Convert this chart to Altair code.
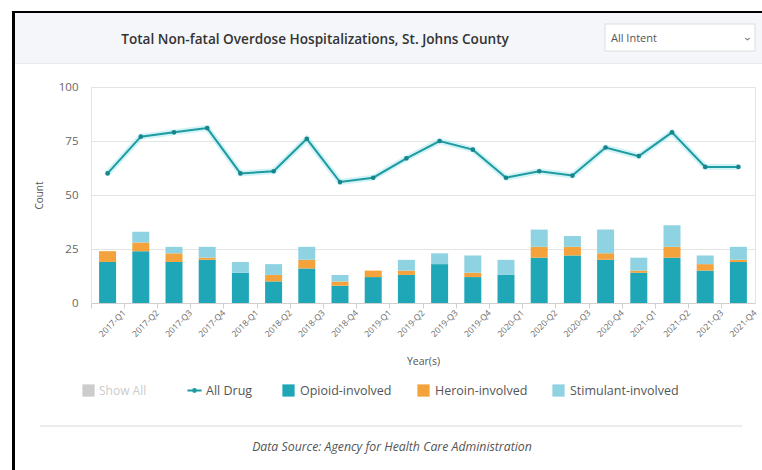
import altair as alt
import pandas as pd

# ---------------- data ----------------
quarters = ["2017-Q1", "2017-Q2", "2017-Q3", "2017-Q4",
            "2018-Q1", "2018-Q2", "2018-Q3", "2018-Q4",
            "2019-Q1", "2019-Q2", "2019-Q3", "2019-Q4",
            "2020-Q1", "2020-Q2", "2020-Q3", "2020-Q4",
            "2021-Q1", "2021-Q2", "2021-Q3", "2021-Q4"]
all_drug = [60, 77, 79, 81, 60, 61, 76, 56, 58, 67,
            75, 71, 58, 61, 59, 72, 68, 79, 63, 63]
opioid = [19, 24, 19, 20, 14, 10, 16, 8, 12, 13,
          18, 12, 13, 21, 22, 20, 14, 21, 15, 19]
heroin = [5, 4, 4, 1, 0, 3, 4, 2, 3, 2,
          0, 2, 0, 5, 4, 3, 1, 5, 3, 1]
stimulant = [0, 5, 3, 5, 5, 5, 6, 3, 0, 5,
             5, 8, 7, 8, 5, 11, 6, 10, 4, 6]

bar_series = ["Opioid-involved", "Heroin-involved", "Stimulant-involved"]
bar_colors = ["#1fa7b7", "#f4a23c", "#8fd3e2"]
line_name = "All Drug"
line_color = "#1e9ba1"
show_all = "Show All"

title_text = "Total Non-fatal Overdose Hospitalizations, St. Johns County"
dropdown_text = "All Intent"
source_text = "Data Source: Agency for Health Care Administration"

FONT = "Open Sans"

# ---------------- tables ----------------
line_df = pd.DataFrame({"quarter": quarters, "count": all_drug,
                        "series": [line_name] * len(quarters)})
rows = []
for j, (name, vals) in enumerate(zip(bar_series, [opioid, heroin, stimulant])):
    for q, v in zip(quarters, vals):
        rows.append({"quarter": q, "series": name, "count": v, "order": j})
bar_df = pd.DataFrame(rows)
dummy_df = pd.DataFrame({"quarter": [quarters[0]], "count": [None], "s": [show_all]})

W, H = 664, 216
STEP = W / len(quarters)

x_enc = alt.X(
    "quarter:N", sort=quarters, title="Year(s)",
    scale=alt.Scale(domain=quarters, paddingInner=0, paddingOuter=0),
    axis=alt.Axis(labelAngle=315, labelAlign="right", labelBaseline="middle",
                  labelFontSize=8.5, labelColor="#666", labelPadding=3,
                  labelFont=FONT, bandPosition=0, labelOffset=STEP / 2,
                  tickSize=5, tickColor="#d0d0d0", domainColor="#d0d0d0",
                  grid=False, titleFontSize=10.5, titleFontWeight="normal",
                  titleColor="#555", titleFont=FONT, titlePadding=19))
y_scale = alt.Scale(domain=[0, 100], nice=False)
y_axis = alt.Axis(values=[0, 25, 50, 75, 100], grid=True, gridColor="#e4e4e4",
                  domain=False, ticks=False, labelColor="#666", labelFontSize=11.5,
                  labelFont=FONT, labelPadding=13, titleFontSize=10,
                  titleFontWeight="normal", titleColor="#555", titleFont=FONT,
                  titlePadding=14)

LEG_Y = 297
leg_common = dict(orient="none", direction="horizontal", title=None,
                  labelFont=FONT, labelFontSize=12.5, labelColor="#555",
                  padding=0)

bars = alt.Chart(bar_df).mark_bar(width=alt.RelativeBandSize(0.512)).encode(
    x=x_enc,
    y=alt.Y("count:Q", stack="zero", scale=y_scale, axis=y_axis, title="Count"),
    color=alt.Color("series:N", scale=alt.Scale(domain=bar_series, range=bar_colors),
                    legend=alt.Legend(legendX=191, legendY=LEG_Y, symbolType="square",
                                      symbolSize=150, gridAlign="all", columnPadding=8,
                                      labelOffset=5, symbolStrokeWidth=0, **leg_common)),
    order=alt.Order("order:Q"),
)

glow = alt.Chart(line_df).mark_line(color="#8fe0e8", strokeWidth=6, opacity=0.4).encode(
    x=x_enc, y=alt.Y("count:Q", scale=y_scale, axis=y_axis, title="Count"))

line = alt.Chart(line_df).mark_line(strokeWidth=2).encode(
    x=x_enc,
    y=alt.Y("count:Q", scale=y_scale, axis=y_axis, title="Count"),
    stroke=alt.Stroke("series:N", scale=alt.Scale(domain=[line_name], range=[line_color]),
                      legend=alt.Legend(legendX=95, legendY=LEG_Y - 2, symbolSize=200,
                                        symbolStrokeWidth=2, labelOffset=3,
                                        symbolType="M-1,0H1M-0.2,0A0.2,0.2,0,1,1,0.2,0A0.2,0.2,0,1,1,-0.2,0Z",
                                        **leg_common)),
)

points = alt.Chart(line_df).mark_point(filled=True, size=22, color="#17868c", opacity=1).encode(
    x=x_enc, y=alt.Y("count:Q", scale=y_scale, axis=y_axis, title="Count"))

show_all_layer = alt.Chart(dummy_df).mark_point(filled=True, color="#cccccc", opacity=1).encode(
    x=x_enc,
    y=alt.Y("count:Q", scale=y_scale, axis=y_axis, title="Count"),
    shape=alt.Shape("s:N", scale=alt.Scale(domain=[show_all], range=["square"]),
                    legend=alt.Legend(legendX=-9, legendY=LEG_Y, symbolSize=150,
                                      symbolFillColor="#cccccc", symbolStrokeWidth=0,
                                      labelOffset=4,
                                      **{**leg_common, "labelColor": "#cccccc",
                                         "labelFontSize": 12})),
)

# ---------------- decorations (page frame) ----------------
one = alt.Data(values=[{}])
OX, OY = 91, 87  # plot origin in page pixels


def rect(x0, x1, y0, y1, fill, stroke=None):
    kw = dict(fill=fill)
    if stroke:
        kw.update(stroke=stroke, strokeWidth=1)
    return alt.Chart(one).mark_rect(**kw).encode(
        x=alt.value(x0 - OX), x2=alt.value(x1 - OX),
        y=alt.value(y0 - OY), y2=alt.value(y1 - OY))


def text(t, x, y, size, color, align="center", weight="normal", style="normal", angle=0):
    kw = dict(text=t, fontSize=size, color=color, align=align, baseline="middle",
              font=FONT, fontWeight=weight, fontStyle=style)
    if angle:
        kw["angle"] = angle
    return alt.Chart(one).mark_text(**kw).encode(x=alt.value(x - OX), y=alt.value(y - OY))


deco = [
    rect(15, 762, 13, 63, "#f4f6f9"),
    rect(15, 762, 63, 64, "#e6e9ed"),
    rect(12, 15, 11, 470, "#000000"),
    rect(12, 762, 11, 13, "#000000"),
    rect(605, 755, 24, 51, "#ffffff", "#dcdcdc"),
    text(dropdown_text, 611, 39, 11, "#555", align="left"),
    text("\u203a", 748, 39, 13, "#777", angle=90),
    text(title_text, 315, 40, 13.6, "#333", weight=600),
    rect(40, 742, 425, 427, "#ececec"),
    text(source_text, 392, 447, 12.3, "#555", style="italic"),
]

chart = alt.layer(*deco, bars, glow, line, points, show_all_layer).resolve_scale(
    color="independent", stroke="independent", shape="independent"
).properties(
    width=W, height=H, autosize="none",
    padding={"left": OX, "top": OY, "right": 762 - OX - W, "bottom": 470 - OY - H},
    background="#ffffff",
).configure_view(stroke="#e4e4e4", strokeWidth=1)

chart.save("out.html", embed_options={"renderer": "svg", "actions": False})
